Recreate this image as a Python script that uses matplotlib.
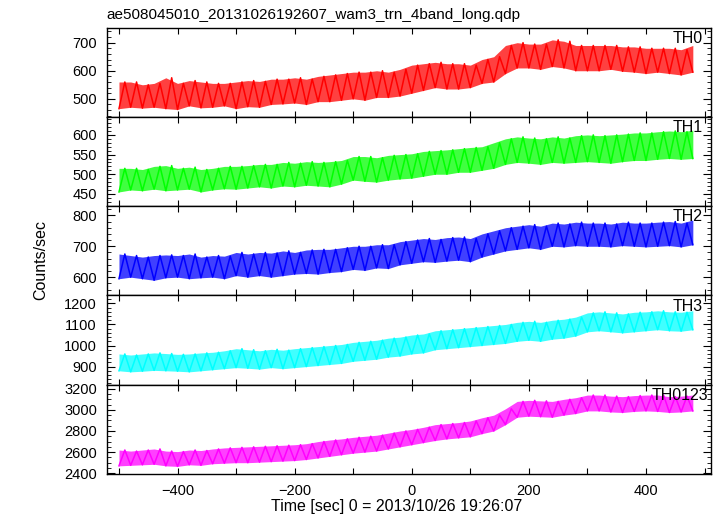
import numpy as np
import matplotlib
matplotlib.use("Agg")
import matplotlib.pyplot as plt
from matplotlib.ticker import MultipleLocator

plt.rcParams['font.family'] = ['Liberation Sans', 'DejaVu Sans']

# --- Data: 20 s bins, lower / upper edge of the light curve band ---
time_bins = np.arange(-500, 500, 20)  # bin start times (sec)

th0_lo = [465, 470, 467, 470, 465, 462, 475, 468, 470, 475, 465, 472, 470, 480, 482, 485, 480,
          490, 490, 495, 500, 495, 505, 505, 510, 520, 530, 540, 535, 535, 540, 555, 560, 590,
          610, 610, 605, 615, 610, 600, 600, 600, 605, 598, 595, 590, 595, 590, 585, 595]
th0_hi = [560, 560, 550, 555, 575, 555, 565, 560, 555, 555, 560, 565, 562, 570, 570, 575, 570,
          580, 585, 590, 595, 595, 600, 595, 605, 620, 625, 630, 625, 625, 620, 640, 650, 690,
          700, 695, 695, 710, 705, 690, 690, 690, 690, 685, 685, 680, 680, 680, 675, 690]

th1_lo = [455, 460, 458, 462, 458, 460, 462, 455, 460, 463, 462, 465, 468, 465, 470, 468, 472,
          470, 468, 475, 485, 482, 480, 485, 488, 490, 495, 500, 500, 505, 505, 510, 515, 525,
          530, 528, 525, 530, 528, 530, 532, 530, 528, 532, 535, 535, 538, 540, 538, 540]
th1_hi = [515, 515, 512, 520, 522, 515, 518, 512, 515, 520, 520, 522, 525, 525, 530, 528, 532,
          530, 532, 535, 545, 545, 542, 548, 550, 552, 558, 560, 562, 565, 568, 570, 580, 590,
          595, 592, 590, 595, 592, 598, 600, 598, 600, 602, 605, 605, 608, 610, 608, 612]

th2_lo = [595, 600, 595, 590, 598, 600, 595, 598, 600, 595, 605, 600, 605, 600, 605, 610, 612,
          610, 615, 618, 625, 622, 630, 628, 640, 645, 650, 648, 652, 655, 650, 665, 675, 685,
          690, 695, 690, 700, 698, 702, 700, 700, 698, 702, 700, 698, 700, 702, 698, 705]
th2_hi = [675, 670, 665, 670, 672, 670, 675, 665, 670, 668, 680, 675, 680, 678, 685, 680, 688,
          690, 690, 695, 700, 700, 705, 705, 715, 720, 725, 722, 728, 730, 725, 740, 750, 760,
          765, 770, 765, 775, 772, 778, 775, 775, 772, 778, 775, 775, 778, 780, 775, 785]

th3_lo = [880, 875, 878, 882, 880, 878, 875, 880, 885, 890, 895, 892, 888, 895, 890, 895, 900,
          905, 910, 915, 925, 930, 935, 945, 950, 960, 965, 980, 985, 990, 995, 1000, 1005, 1010,
          1020, 1025, 1020, 1030, 1035, 1045, 1065, 1070, 1065, 1060, 1065, 1070, 1075, 1070, 1068, 1075]
th3_hi = [960, 955, 960, 965, 962, 958, 960, 965, 968, 975, 985, 980, 975, 982, 978, 985, 990,
          995, 1000, 1005, 1015, 1020, 1025, 1035, 1040, 1050, 1055, 1070, 1075, 1080, 1085, 1090,
          1095, 1100, 1110, 1115, 1110, 1120, 1125, 1135, 1155, 1160, 1155, 1150, 1158, 1160, 1165,
          1160, 1158, 1165]

th0123_lo = [2470, 2475, 2480, 2485, 2470, 2465, 2480, 2475, 2490, 2495, 2500, 2500, 2505, 2510,
             2515, 2520, 2530, 2545, 2560, 2575, 2590, 2600, 2610, 2630, 2650, 2670, 2690, 2710,
             2725, 2735, 2745, 2775, 2800, 2860, 2930, 2940, 2935, 2930, 2950, 2965, 2990, 2990,
             2980, 2975, 2985, 2990, 2985, 2975, 2980, 2990]
th0123_hi = [2620, 2610, 2620, 2630, 2610, 2605, 2620, 2615, 2630, 2640, 2645, 2650, 2655, 2660,
             2665, 2670, 2680, 2700, 2715, 2725, 2740, 2750, 2760, 2780, 2800, 2815, 2835, 2860,
             2870, 2880, 2895, 2925, 2950, 3010, 3080, 3090, 3085, 3080, 3100, 3115, 3140, 3140,
             3130, 3125, 3135, 3140, 3140, 3125, 3130, 3140]

band_names = ["TH0", "TH1", "TH2", "TH3", "TH0123"]
band_lo = [th0_lo, th1_lo, th2_lo, th3_lo, th0123_lo]
band_hi = [th0_hi, th1_hi, th2_hi, th3_hi, th0123_hi]
band_colors = ["#ff0000", "#00ff00", "#0000ff", "#00ffff", "#ff00ff"]
y_limits = [(436, 754), (419, 646), (541, 830), (814, 1238), (2393, 3238)]
y_major = [100, 50, 100, 100, 200]
y_minor = [20, 10, 20, 20, 50]
label_x = [0.986, 0.986, 0.986, 0.986, 0.995]

fig, axes = plt.subplots(5, 1, sharex=True, figsize=(7.17, 5.16), dpi=100)
fig.subplots_adjust(left=0.1488, right=0.9916, top=0.9467, bottom=0.0814, hspace=0)

for ax, name, lo, hi, col, ylim, maj, mnr, lx in zip(
        axes, band_names, band_lo, band_hi, band_colors, y_limits, y_major, y_minor, label_x):
    lo = np.array(lo)
    hi = np.array(hi)
    # band ~ data points + error bars
    ax.fill_between(time_bins, lo, hi, color=col, alpha=0.75, lw=0)
    # zig-zag between lower and upper edge ~ the noisy trace
    zx = np.column_stack([time_bins, time_bins + 10]).ravel()[:-1]
    zy = np.column_stack([lo, hi]).ravel()[:-1]
    ax.plot(zx, zy, color=col, lw=1.1)

    ax.set_ylim(*ylim)
    ax.yaxis.set_major_locator(MultipleLocator(maj))
    ax.yaxis.set_minor_locator(MultipleLocator(mnr))
    ax.tick_params(axis='y', which='major', direction='in', length=6, width=0.8,
                   left=True, right=True, labelsize=10.5, pad=7)
    ax.tick_params(axis='y', which='minor', direction='in', length=3, width=0.6,
                   left=True, right=True)
    ax.tick_params(axis='x', which='both', direction='in', length=4, width=0.8,
                   top=True, bottom=True, labelsize=10.5, pad=7)
    for sp in ax.spines.values():
        sp.set_linewidth(1.0)
    ax.text(lx, 0.965, name, transform=ax.transAxes, ha='right', va='top', fontsize=11.5)

axes[-1].set_xlim(-521, 511)
axes[-1].xaxis.set_major_locator(MultipleLocator(200))
axes[-1].xaxis.set_minor_locator(MultipleLocator(100))
axes[-1].set_xticks([-400, -200, 0, 200, 400])
axes[-1].set_xticklabels(["\u2212400", "\u2212200", "0", "200", "400"])

fig.text(106.7 / 717, 1 - 15 / 516, "ae508045010_20131026192607_wam3_trn_4band_long.qdp",
         ha='left', va='center', fontsize=11)
fig.text(41 / 717, 1 - 260 / 516, "Counts/sec", rotation=90, ha='center', va='center', fontsize=11.5)
fig.text(397 / 717, 1 - 506 / 516, "Time [sec] 0 = 2013/10/26 19:26:07",
         ha='center', va='center', fontsize=11.5)

fig.savefig("out.png", dpi=100)
